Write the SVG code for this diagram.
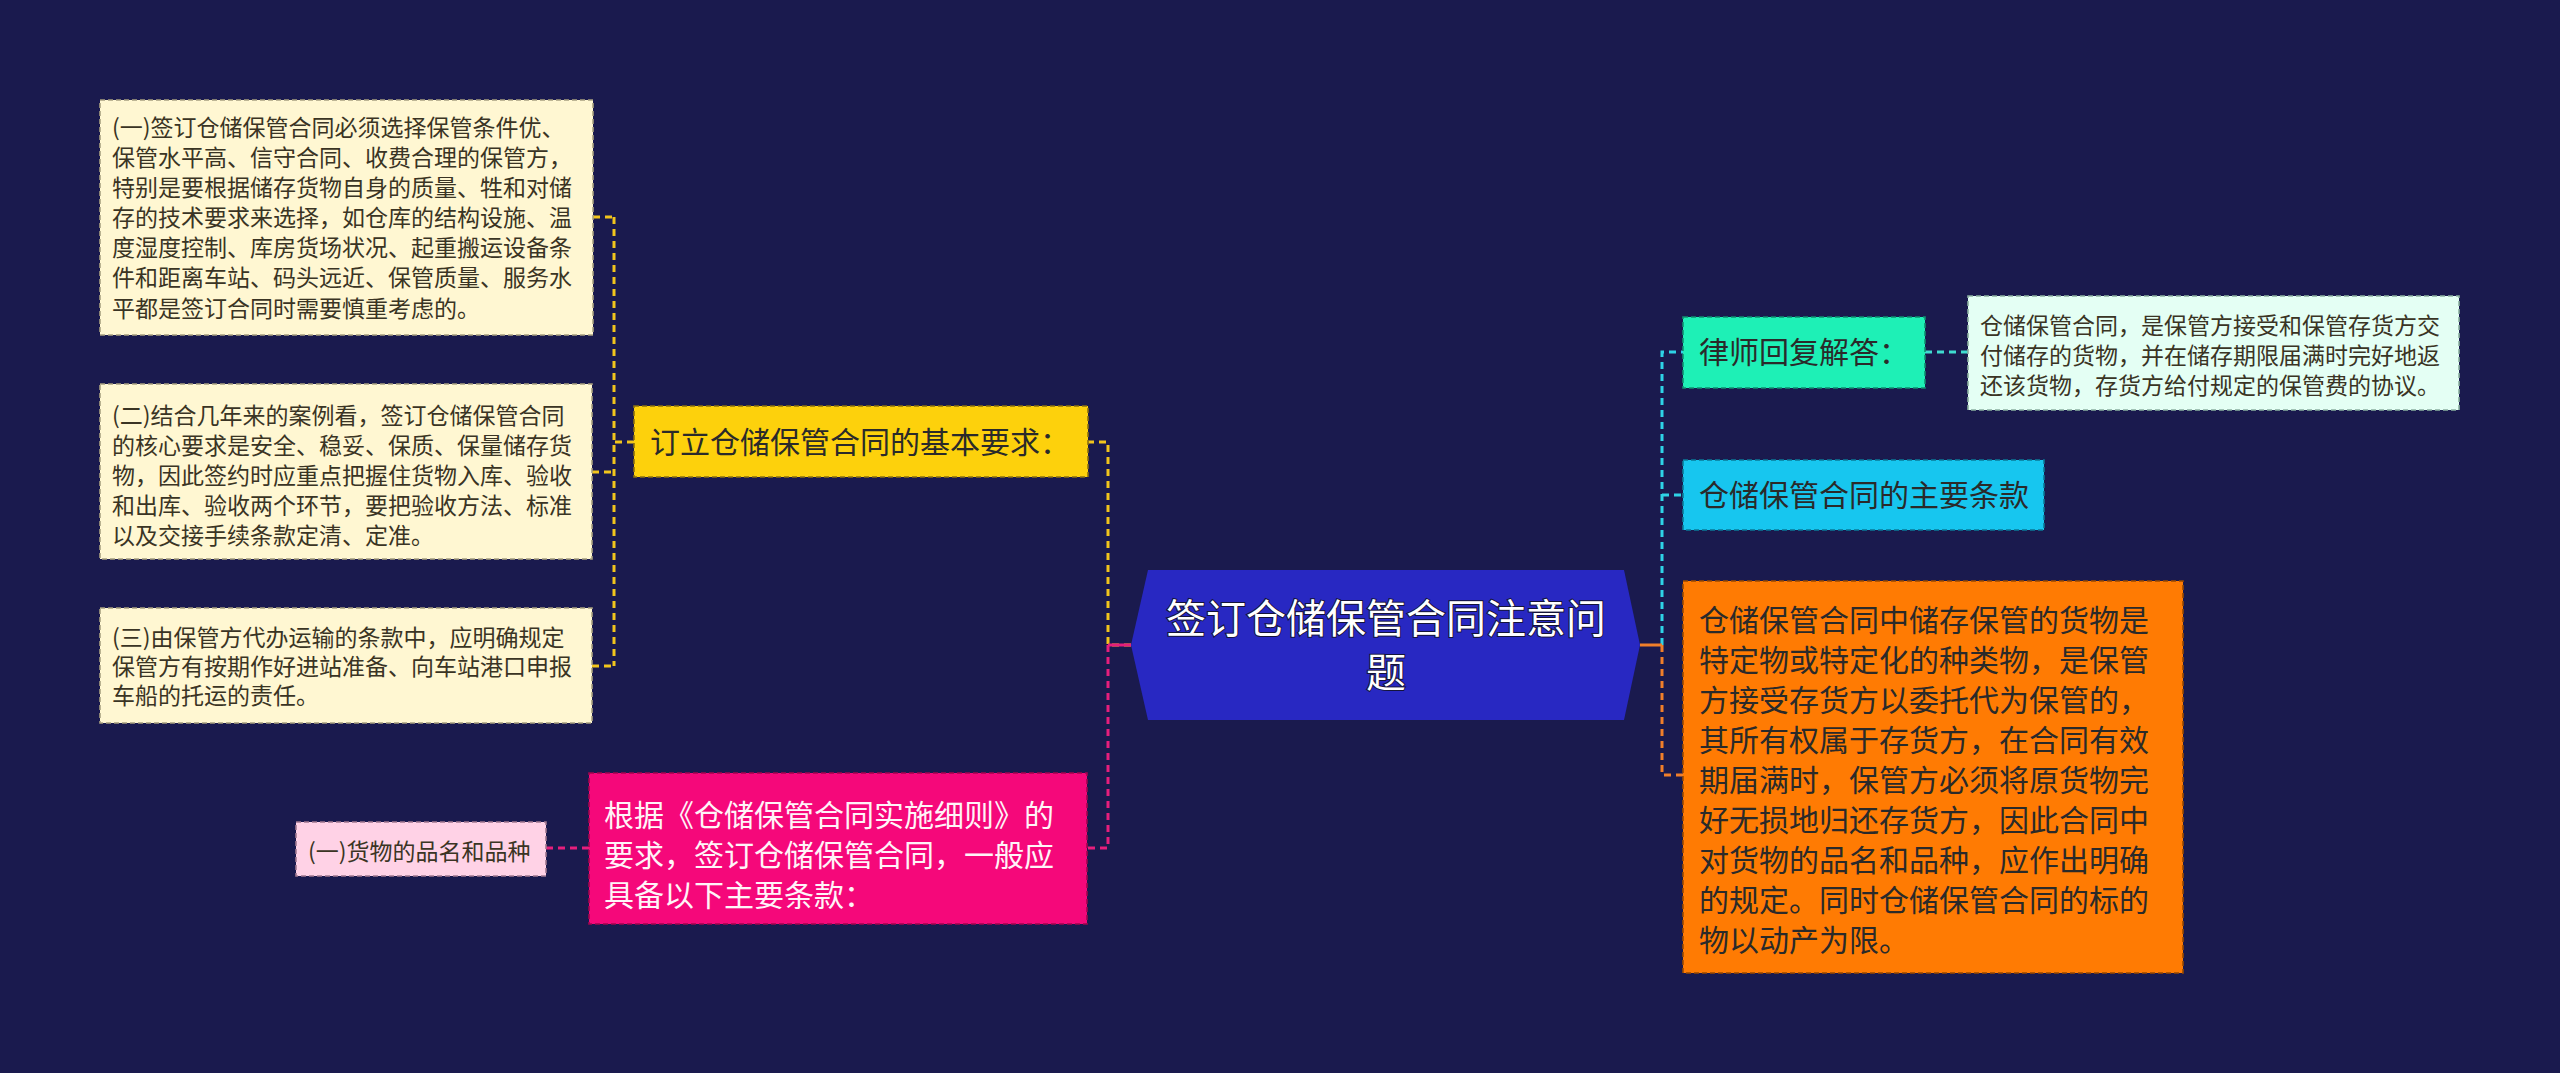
<svg xmlns="http://www.w3.org/2000/svg" width="2560" height="1073" viewBox="0 0 2560 1073">
<style>
  text { font-family: "Noto Sans CJK SC", "Noto Sans", sans-serif; }
  .box { stroke-width: 1.6; stroke-dasharray: 5 3; }
  .s { font-size: 23px; fill: #3a3424; }
  .m { font-size: 30px; fill: #2a2a2a; }
  .c { fill: none; stroke-width: 3; stroke-dasharray: 7 5; }
  .solid { fill: none; stroke-width: 3; }
</style>
<rect x="0" y="0" width="2560" height="1073" fill="#1a1a4e"/>

<g id="connectors">
  <!-- left yellow branch -->
  <path class="c" stroke="#f2c51c" d="M1131 645 H1108 V442 H1088"/>
  <path class="c" stroke="#f2c51c" d="M634 442 H614 M614 217 V666 M593 217 H614 M592 472 H614 M592 666 H614"/>
  <!-- pink branch -->
  <path class="c" stroke="#e61e7c" d="M1108 645 V848 H1087"/>
  <path class="c" stroke="#e61e7c" d="M589 848 H546"/>
  <path class="solid" stroke="#e61e7c" d="M1131 645 H1108"/>
  <!-- right cyan branch -->
  <path class="c" stroke="#2ed3e6" d="M1662 645 V352 H1683 M1662 495 H1683"/>
  <path class="c" stroke="#3fdcd0" d="M1925 352 H1968"/>
  <!-- orange branch -->
  <path class="solid" stroke="#f07f2a" d="M1640 645 H1662"/>
  <path class="c" stroke="#f07f2a" d="M1662 645 V775 H1683"/>
</g>

<g id="center">
  <path d="M1148 570 H1624 L1640 645 L1624 720 H1148 L1131 645 Z" fill="#2828c2"/>
  <text x="1386" y="633" text-anchor="middle" font-size="40" fill="#ffffff" stroke="#14143a" stroke-width="2" paint-order="stroke">签订仓储保管合同注意问</text>
  <text x="1386" y="687" text-anchor="middle" font-size="40" fill="#ffffff" stroke="#14143a" stroke-width="2" paint-order="stroke">题</text>
</g>

<g id="node-req">
  <rect class="box" x="634" y="406" width="454" height="71" fill="#fdd10c" stroke="#8a7010"/>
  <text class="m" x="650" y="453">订立仓储保管合同的基本要求：</text>
</g>

<g id="node-req-1">
  <rect class="box" x="100" y="100" width="493" height="235" fill="#fff7d2" stroke="#a8a080"/>
  <text class="s" x="112" y="136">(一)签订仓储保管合同必须选择保管条件优、</text>
  <text class="s" x="112" y="166">保管水平高、信守合同、收费合理的保管方，</text>
  <text class="s" x="112" y="196">特别是要根据储存货物自身的质量、牲和对储</text>
  <text class="s" x="112" y="226">存的技术要求来选择，如仓库的结构设施、温</text>
  <text class="s" x="112" y="256">度湿度控制、库房货场状况、起重搬运设备条</text>
  <text class="s" x="112" y="286">件和距离车站、码头远近、保管质量、服务水</text>
  <text class="s" x="112" y="317">平都是签订合同时需要慎重考虑的。</text>
</g>

<g id="node-req-2">
  <rect class="box" x="100" y="384" width="492" height="175" fill="#fff7d2" stroke="#a8a080"/>
  <text class="s" x="112" y="424">(二)结合几年来的案例看，签订仓储保管合同</text>
  <text class="s" x="112" y="454">的核心要求是安全、稳妥、保质、保量储存货</text>
  <text class="s" x="112" y="484">物，因此签约时应重点把握住货物入库、验收</text>
  <text class="s" x="112" y="514">和出库、验收两个环节，要把验收方法、标准</text>
  <text class="s" x="112" y="544">以及交接手续条款定清、定准。</text>
</g>

<g id="node-req-3">
  <rect class="box" x="100" y="608" width="492" height="115" fill="#fff7d2" stroke="#a8a080"/>
  <text class="s" x="112" y="646">(三)由保管方代办运输的条款中，应明确规定</text>
  <text class="s" x="112" y="675">保管方有按期作好进站准备、向车站港口申报</text>
  <text class="s" x="112" y="704">车船的托运的责任。</text>
</g>

<g id="node-rules">
  <rect class="box" x="589" y="773" width="498" height="151" fill="#f5087a" stroke="#a0054f"/>
  <text class="m" x="604" y="826" fill="#fff4f8" style="fill:#fff4f8">根据《仓储保管合同实施细则》的</text>
  <text class="m" x="604" y="866" style="fill:#fff4f8">要求，签订仓储保管合同，一般应</text>
  <text class="m" x="604" y="906" style="fill:#fff4f8">具备以下主要条款：</text>
</g>

<g id="node-rules-1">
  <rect class="box" x="296" y="822" width="250" height="54" fill="#ffd2e6" stroke="#a07890"/>
  <text class="s" x="308" y="860">(一)货物的品名和品种</text>
</g>

<g id="node-lawyer">
  <rect class="box" x="1683" y="317" width="242" height="71" fill="#1ef0b6" stroke="#0f8f70"/>
  <text class="m" x="1699" y="363">律师回复解答：</text>
</g>

<g id="node-lawyer-1">
  <rect class="box" x="1968" y="296" width="491" height="114" fill="#e4fff4" stroke="#8ab0a0"/>
  <text class="s" x="1980" y="334">仓储保管合同，是保管方接受和保管存货方交</text>
  <text class="s" x="1980" y="364">付储存的货物，并在储存期限届满时完好地返</text>
  <text class="s" x="1980" y="394">还该货物，存货方给付规定的保管费的协议。</text>
</g>

<g id="node-terms">
  <rect class="box" x="1683" y="460" width="361" height="70" fill="#17c6ef" stroke="#0a7a98"/>
  <text class="m" x="1699" y="506">仓储保管合同的主要条款</text>
</g>

<g id="node-goods">
  <rect class="box" x="1683" y="581" width="500" height="392" fill="#ff7b03" stroke="#9a4a00"/>
  <text class="m" x="1699" y="631">仓储保管合同中储存保管的货物是</text>
  <text class="m" x="1699" y="671">特定物或特定化的种类物，是保管</text>
  <text class="m" x="1699" y="711">方接受存货方以委托代为保管的，</text>
  <text class="m" x="1699" y="751">其所有权属于存货方，在合同有效</text>
  <text class="m" x="1699" y="791">期届满时，保管方必须将原货物完</text>
  <text class="m" x="1699" y="831">好无损地归还存货方，因此合同中</text>
  <text class="m" x="1699" y="871">对货物的品名和品种，应作出明确</text>
  <text class="m" x="1699" y="911">的规定。同时仓储保管合同的标的</text>
  <text class="m" x="1699" y="951">物以动产为限。</text>
</g>
</svg>
